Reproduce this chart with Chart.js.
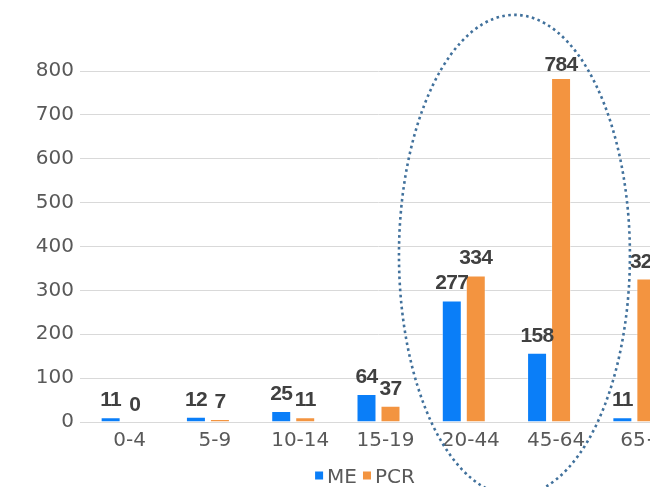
<!DOCTYPE html>
<html>
<head>
<meta charset="utf-8">
<script src="https://cdn.jsdelivr.net/npm/chart.js@4/dist/chart.umd.min.js"></script>
<style>
  html, body { margin: 0; padding: 0; background: #ffffff; overflow: hidden; }
  #wrap { width: 650px; height: 487px; overflow: hidden; }
  #chart { display: block; }
</style>
</head>
<body>
<div id="wrap"><canvas id="chart" width="730" height="487"></canvas></div>
<script>
// Age groups and case counts per method
const ageGroups = ['0-4', '5-9', '10-14', '15-19', '20-44', '45-64', '65+'];
const meCounts  = [11, 12, 25, 64, 277, 158, 11];
const pcrCounts = [0, 7, 11, 37, 334, 784, 327];
const yTicks    = [0, 100, 200, 300, 400, 500, 600, 700, 800];

// Dotted ellipse around the adult groups, given in axis units
const highlight = { centerIndex: 4.594, halfWidthCats: 1.354, centerValue: 380, halfHeightValue: 548 };

const TICK_FONT = { family: 'DejaVu Sans', size: 20 };
const TICK_COLOR = '#595959';
const GRID_COLOR = '#d9d9d9';

// Value labels above each bar, kept inside the plot's top edge
const valueLabels = {
  id: 'valueLabels',
  afterDatasetsDraw(chart) {
    const ctx = chart.ctx;
    ctx.save();
    ctx.font = 'bold 21px "Liberation Sans"';
    ctx.fillStyle = '#404040';
    ctx.textAlign = 'center';
    ctx.textBaseline = 'alphabetic';
    if ('letterSpacing' in ctx) ctx.letterSpacing = '-0.7px';
    chart.data.datasets.forEach((ds, i) => {
      chart.getDatasetMeta(i).data.forEach((bar, j) => {
        const y = Math.max(bar.y - 11, chart.chartArea.top);
        ctx.fillText(String(ds.data[j]), bar.x, y);
      });
    });
    ctx.restore();
  }
};

// Dotted highlight ellipse, positioned through the scales
const highlightEllipse = {
  id: 'highlightEllipse',
  afterDraw(chart) {
    const xs = chart.scales.x, ys = chart.scales.y;
    const cx = xs.getPixelForValue(highlight.centerIndex);
    const rx = xs.getPixelForValue(highlight.centerIndex + highlight.halfWidthCats) - cx;
    const cy = ys.getPixelForValue(highlight.centerValue);
    const ry = cy - ys.getPixelForValue(highlight.centerValue + highlight.halfHeightValue);
    const ctx = chart.ctx;
    ctx.save();
    ctx.strokeStyle = '#41719c';
    ctx.lineWidth = 2.6;
    ctx.setLineDash([2.6, 3.4]);
    ctx.beginPath();
    ctx.ellipse(cx, cy, rx, ry, 0, 0, Math.PI * 2);
    ctx.stroke();
    ctx.restore();
  }
};

// Compact legend: small square, tight gap, centred under the chart
const compactLegend = {
  id: 'compactLegend',
  afterDraw(chart) {
    const ctx = chart.ctx;
    ctx.save();
    ctx.font = '20px "DejaVu Sans"';
    const box = 8, gapText = 4, gapItem = 6;
    const items = chart.data.datasets.map(ds => ({ text: ds.label, color: ds.backgroundColor, w: ctx.measureText(ds.label).width }));
    const total = items.reduce((s, it) => s + box + gapText + it.w, 0) + gapItem * (items.length - 1);
    let x = chart.width / 2 - total / 2;
    const base = 482.5;
    items.forEach(it => {
      ctx.fillStyle = it.color;
      ctx.fillRect(x, base - 11, box, box);
      x += box + gapText;
      ctx.fillStyle = TICK_COLOR;
      ctx.textAlign = 'left';
      ctx.textBaseline = 'alphabetic';
      ctx.fillText(it.text, x, base);
      x += it.w + gapItem;
    });
    ctx.restore();
  }
};

new Chart(document.getElementById('chart'), {
  type: 'bar',
  data: {
    labels: ageGroups,
    datasets: [
      { label: 'ME', data: meCounts, backgroundColor: '#0a7ef8', borderColor: 'rgba(255,255,255,0.45)', borderWidth: 1,
        categoryPercentage: 0.5627, barPercentage: 0.833 },
      { label: 'PCR', data: pcrCounts, backgroundColor: '#f39440', borderColor: 'rgba(255,255,255,0.45)', borderWidth: 1,
        categoryPercentage: 0.5627, barPercentage: 0.833 }
    ]
  },
  options: {
    responsive: false,
    animation: false,
    layout: { padding: { top: 71, right: 53, bottom: 35, left: 0 } },
    plugins: { legend: { display: false }, tooltip: { enabled: false } },
    scales: {
      x: {
        grid: { display: false, drawTicks: false },
        border: { color: GRID_COLOR, width: 1 },
        ticks: { font: TICK_FONT, color: TICK_COLOR, padding: 7, labelOffset: 7, maxRotation: 0, autoSkip: false },
        afterFit(s) { s.height = 30; }
      },
      y: {
        min: 0, max: 800,
        afterBuildTicks(s) { s.ticks = yTicks.map(v => ({ value: v })); },
        grid: { color: GRID_COLOR, lineWidth: 1, drawTicks: false },
        border: { display: false },
        ticks: { font: TICK_FONT, color: TICK_COLOR, padding: 6 },
        afterFit(s) { s.width = 80; }
      }
    }
  },
  plugins: [valueLabels, highlightEllipse, compactLegend]
});
</script>
</body>
</html>
